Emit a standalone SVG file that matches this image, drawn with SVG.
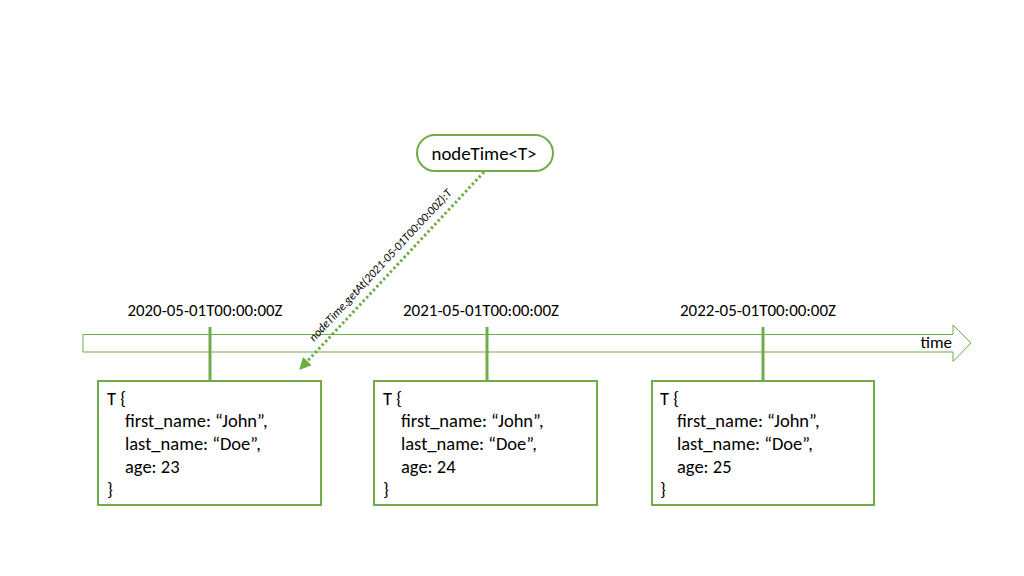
<svg xmlns="http://www.w3.org/2000/svg" width="1024" height="576" viewBox="0 0 1024 576">
<style>
text{font-family:Carlito,"Liberation Sans",Arial,sans-serif;fill:#000}
.box{fill:#fff;stroke:#70AD47;stroke-width:2}
.tick{stroke:#70AD47;stroke-width:3}
.t{font-size:18.5px}
.d{font-size:16px;text-anchor:middle}
</style>
<defs>
<marker id="ah" viewBox="0 0 10 10" refX="9" refY="5" markerWidth="4" markerHeight="4" orient="auto" markerUnits="strokeWidth">
<path d="M0,0 L10,5 L0,10 z" fill="#70AD47"/>
</marker>
</defs>
<rect width="1024" height="576" fill="#fff"/>
<g id="timeline">
<path d="M83,334.5 H953 V325 L971,343 L953,361.5 V352 H83 Z" fill="#fff" stroke="#70AD47" stroke-width="1"/>
<text x="952" y="348" font-size="17" text-anchor="end">time</text>
</g>
<g id="connectors">
<line class="tick" x1="210" y1="327" x2="210" y2="381"/>
<line class="tick" x1="487" y1="327" x2="487" y2="381"/>
<line class="tick" x1="763" y1="327" x2="763" y2="381"/>
<line x1="484" y1="172" x2="300" y2="369" stroke="#70AD47" stroke-width="3" stroke-dasharray="2.5 2.5" marker-end="url(#ah)"/>
<text transform="translate(314,342) rotate(-47)" font-size="12" font-style="italic" textLength="203" lengthAdjust="spacingAndGlyphs">nodeTime.getAt(2021-05-01T00:00:00Z):T</text>
</g>
<g id="label-2020"><text x="205" y="316" class="d" textLength="155" lengthAdjust="spacingAndGlyphs">2020-05-01T00:00:00Z</text></g>
<g id="label-2021"><text x="481" y="316" class="d" textLength="156" lengthAdjust="spacingAndGlyphs">2021-05-01T00:00:00Z</text></g>
<g id="label-2022"><text x="758" y="316" class="d" textLength="156" lengthAdjust="spacingAndGlyphs">2022-05-01T00:00:00Z</text></g>
<g id="nodeTime">
<rect x="417" y="135" width="136" height="36" rx="18" fill="#fff" stroke="#70AD47" stroke-width="2"/>
<text x="484" y="160" font-size="19" text-anchor="middle" textLength="105" lengthAdjust="spacingAndGlyphs">nodeTime&lt;T&gt;</text>
</g>
<g id="box-2020">
<rect class="box" x="98" y="381" width="223" height="124"/>
<text class="t" x="107" y="405">T {</text>
<text class="t" x="125" y="427">first_name: “John”,</text>
<text class="t" x="125" y="450">last_name: “Doe”,</text>
<text class="t" x="125" y="473">age: 23</text>
<text class="t" x="107" y="496">}</text>
</g>
<g id="box-2021">
<rect class="box" x="374" y="381" width="223" height="124"/>
<text class="t" x="383" y="405">T {</text>
<text class="t" x="401" y="427">first_name: “John”,</text>
<text class="t" x="401" y="450">last_name: “Doe”,</text>
<text class="t" x="401" y="473">age: 24</text>
<text class="t" x="383" y="496">}</text>
</g>
<g id="box-2022">
<rect class="box" x="652" y="381" width="222" height="124"/>
<text class="t" x="660" y="405">T {</text>
<text class="t" x="677" y="427">first_name: “John”,</text>
<text class="t" x="677" y="450">last_name: “Doe”,</text>
<text class="t" x="677" y="473">age: 25</text>
<text class="t" x="660" y="496">}</text>
</g>
</svg>
